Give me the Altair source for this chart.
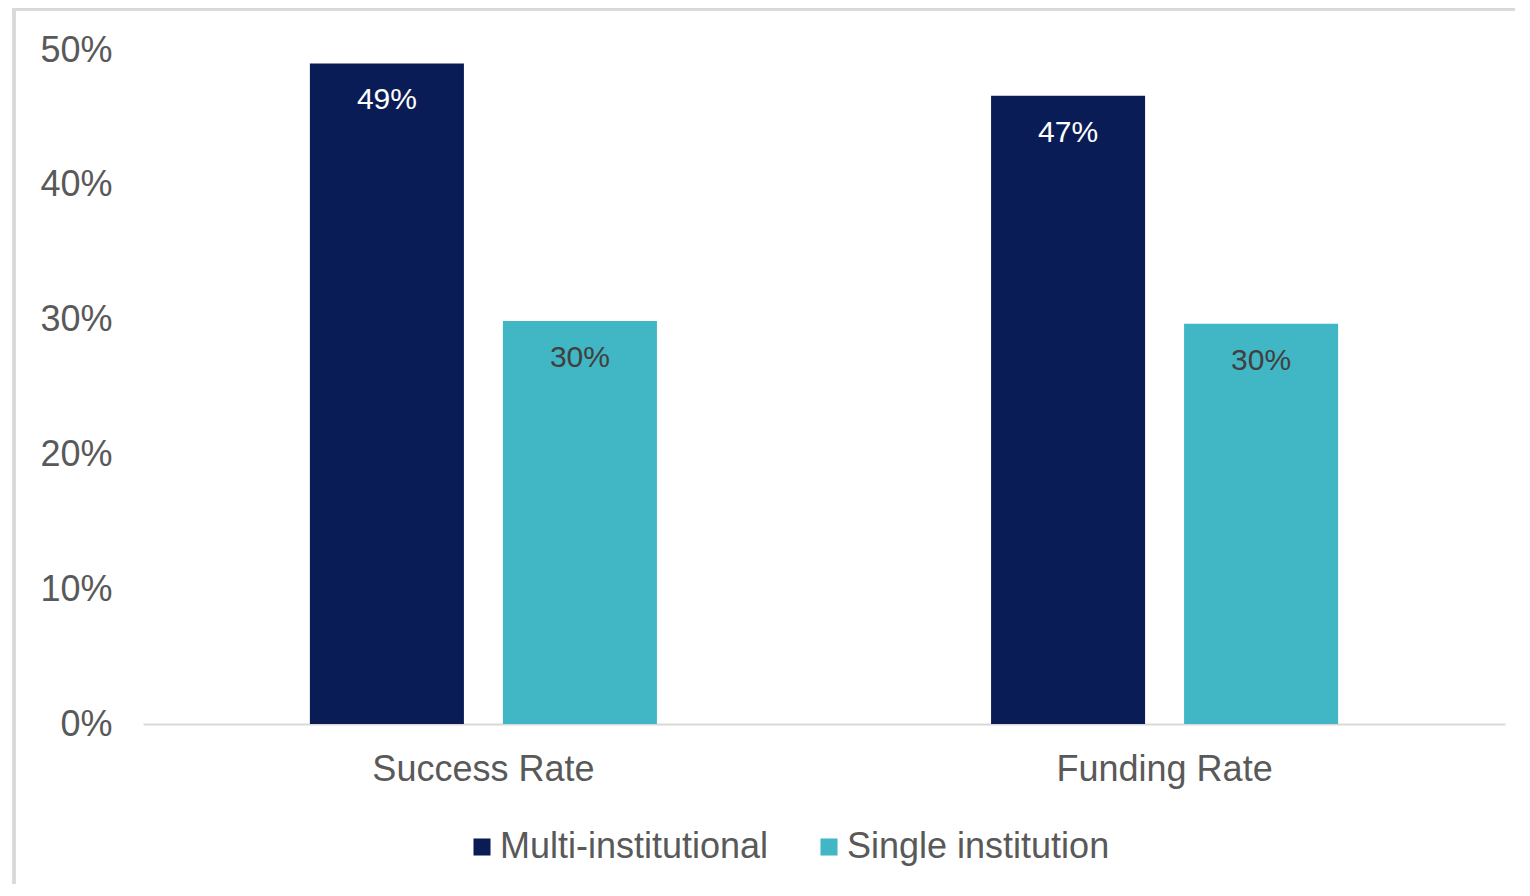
import altair as alt
import pandas as pd

categories = ["Success Rate", "Funding Rate"]
series = ["Multi-institutional", "Single institution"]
multi_values = [0.49, 0.466]
single_values = [0.299, 0.297]
label_text_multi = ["49%", "47%"]
label_text_single = ["30%", "30%"]

rows = []
for i, c in enumerate(categories):
    rows.append({"category": c, "series": series[0], "value": multi_values[i], "label": label_text_multi[i]})
    rows.append({"category": c, "series": series[1], "value": single_values[i], "label": label_text_single[i]})
df = pd.DataFrame(rows)

FONT = "Liberation Sans"
W, H = 1362, 674

x = alt.X("category:N", sort=categories, title=None,
          scale=alt.Scale(paddingInner=0.4905, paddingOuter=0.245),
          axis=alt.Axis(labelAngle=0, labelFontSize=36, labelColor="#595959", labelFont=FONT,
                        labelPadding=28, ticks=False, domainColor="#d9d9d9", domainWidth=2,
                        labelLimit=600))
xo = alt.XOffset("series:N", sort=series, scale=alt.Scale(paddingInner=0.202, paddingOuter=0))
y = alt.Y("value:Q", title=None,
          scale=alt.Scale(domain=[0, 0.5]),
          axis=alt.Axis(format=".0%", values=[0, 0.1, 0.2, 0.3, 0.4, 0.5], labelFontSize=36,
                        labelColor="#595959", labelFont=FONT, labelPadding=31, ticks=False,
                        domain=False, grid=False))

bars = alt.Chart(df).mark_bar().encode(
    x=x, xOffset=xo, y=y,
    color=alt.Color("series:N", sort=series, title=None,
                    scale=alt.Scale(domain=series, range=["#0a1c55", "#41b6c4"]),
                    legend=alt.Legend(orient="none", legendX=321, legendY=779,
                                      direction="horizontal", symbolType="square",
                                      symbolSize=290, symbolStrokeWidth=0, labelFontSize=36,
                                      labelColor="#595959", labelFont=FONT, columnPadding=42,
                                      symbolOffset=0, labelOffset=0, padding=0,
                                      labelLimit=400))
)

texts = alt.Chart(df).transform_calculate(
    tcolor="datum.series == 'Multi-institutional' ? '#ffffff' : '#404040'"
).mark_text(baseline="middle", align="center", dy=37, fontSize=30, font=FONT).encode(
    x=alt.X("category:N", sort=categories), xOffset=alt.XOffset("series:N", sort=series), y="value:Q",
    text="label:N",
    color=alt.Color("tcolor:N", scale=None, legend=None)
)

frame_left = alt.Chart(df).mark_rule(color="#d9d9d9", strokeWidth=3).encode(
    x=alt.value(-129), y=alt.value(-42), y2=alt.value(H + 170)
)
frame_top = alt.Chart(df).mark_rule(color="#d9d9d9", strokeWidth=3).encode(
    x=alt.value(-129), x2=alt.value(W + 30), y=alt.value(-41)
)

chart = alt.layer(bars, texts, frame_left, frame_top).properties(
    width=W, height=H,
    padding={"left": 135, "top": 42, "right": 10, "bottom": 160},
    autosize=alt.AutoSizeParams(type="none")
).configure(background="white").configure_view(stroke=None)

chart.save("out.html", embed_options={"renderer": "svg", "actions": False})
